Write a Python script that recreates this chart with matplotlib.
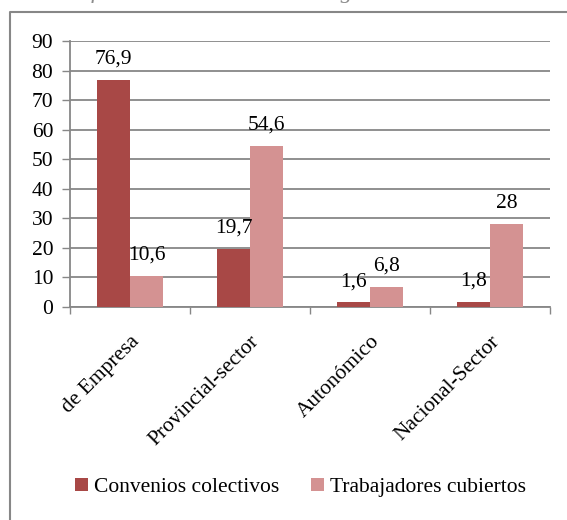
import matplotlib.pyplot as plt
from matplotlib.lines import Line2D
import numpy as np

categorias = ['de Empresa', 'Provincial-sector', 'Autonómico', 'Nacional-Sector']
convenios = [76.9, 19.7, 1.6, 1.8]
trabajadores = [10.6, 54.6, 6.8, 28]
etiq_convenios = ['76,9', '19,7', '1,6', '1,8']
etiq_trabajadores = ['10,6', '54,6', '6,8', '28']

rojo = '#A84846'
rosa = '#D49292'
gris = '#878787'
fs = 15.5

plt.rcParams['font.family'] = ['Liberation Serif', 'DejaVu Serif']

fig = plt.figure(figsize=(5.67, 5.2), dpi=100)
ax = fig.add_axes([70 / 567, 1 - 307 / 520, 480 / 567, 266 / 520])

x = np.arange(len(categorias))
w = 0.275
b1 = ax.bar(x - w / 2, convenios, w, color=rojo, label='Convenios colectivos', zorder=3)
b2 = ax.bar(x + w / 2, trabajadores, w, color=rosa, label='Trabajadores cubiertos', zorder=3)

for bars, labs in [(b1, etiq_convenios), (b2, etiq_trabajadores)]:
    for r, t in zip(bars, labs):
        ax.annotate(t, (r.get_x() + r.get_width() / 2, r.get_height()),
                    xytext=(0, 11.5), textcoords='offset points',
                    ha='center', va='baseline', fontsize=fs)

ax.set_ylim(0, 90)
ax.set_xlim(-0.5, 3.5)
ax.set_yticks(range(0, 91, 10))
ax.yaxis.grid(True, color=gris, linewidth=1.3, zorder=0)
ax.tick_params(axis='y', labelsize=fs, length=6, width=1, color=gris, pad=6)

# ticks entre categorias, etiquetas centradas
ax.set_xticks(np.arange(-0.5, 4, 1))
ax.set_xticklabels([])
ax.set_xticks(x, minor=True)
ax.set_xticklabels(categorias, minor=True, rotation=45, ha='right',
                   rotation_mode='anchor', fontsize=fs)
ax.tick_params(axis='x', which='major', length=5, width=1, color=gris)
ax.tick_params(axis='x', which='minor', length=0, pad=18)

for s in ['top', 'right']:
    ax.spines[s].set_visible(False)
for s in ['left', 'bottom']:
    ax.spines[s].set_color(gris)
    ax.spines[s].set_linewidth(1.3)

fig.legend(loc='center', bbox_to_anchor=(0.53, 0.063), ncol=2, frameon=False,
           fontsize=fs, handlelength=0.6, handleheight=0.6, handletextpad=0.3,
           columnspacing=1.45)

# marco del grafico y titulo cortado
fig.add_artist(Line2D([10 / 567, 10 / 567, 1], [0, 1 - 12 / 520, 1 - 12 / 520],
                      transform=fig.transFigure, color=gris, linewidth=1.5))
fig.text(0.51, 1 + 2 / 520, 'Gráfico 3: Estructura de la negociación colectiva',
         ha='center', va='baseline', fontsize=17, style='italic', color='#8c8c8c')

fig.savefig('out.png', dpi=100)
